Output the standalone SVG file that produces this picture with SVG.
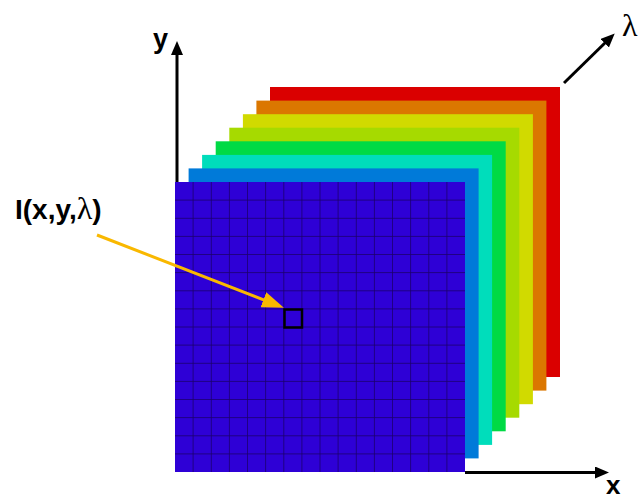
<svg xmlns="http://www.w3.org/2000/svg" width="638" height="500" viewBox="0 0 638 500">
  <style>
    .lbl{font-family:"Liberation Sans",Arial,sans-serif;font-weight:bold;fill:#000}
    .greek{font-family:"Liberation Serif","Times New Roman",serif;font-weight:normal;fill:#000}
    .axis{stroke:#000;stroke-width:3;fill:none}
    .grid{stroke:#1c0068;stroke-width:1;fill:none;opacity:0.75}
  </style>
  <defs>
    <marker id="blackHead" markerUnits="userSpaceOnUse" markerWidth="14" markerHeight="12" refX="6" refY="6" orient="auto">
      <path d="M0,0 L14,6 L0,12 z" fill="#000"/>
    </marker>
    <marker id="goldHead" markerUnits="userSpaceOnUse" markerWidth="22" markerHeight="16" refX="10" refY="8" orient="auto">
      <path d="M0,0 L22,8 L0,16 z" fill="#F9B800"/>
    </marker>
  </defs>
  <rect width="638" height="500" fill="#fff"/>

  <g id="connectors">
    <line id="y-axis" class="axis" x1="177" y1="472" x2="177" y2="49" marker-end="url(#blackHead)"/>
    <line id="x-axis" class="axis" x1="465" y1="472.5" x2="601" y2="472.5" marker-end="url(#blackHead)"/>
    <line id="lambda-axis" class="axis" x1="564" y1="83" x2="609" y2="39" marker-end="url(#blackHead)"/>
  </g>

  <g id="layer-red"><rect x="270" y="87" width="290" height="290" fill="#DA0000"/></g>
  <g id="layer-orange"><rect x="256.4" y="100.6" width="290" height="290" fill="#DB7700"/></g>
  <g id="layer-yellow"><rect x="242.9" y="114.2" width="290" height="290" fill="#D1DA00"/></g>
  <g id="layer-yellowgreen"><rect x="229.3" y="127.7" width="290" height="290" fill="#A6DA00"/></g>
  <g id="layer-green"><rect x="215.7" y="141.3" width="290" height="290" fill="#00DA45"/></g>
  <g id="layer-cyan"><rect x="202.1" y="154.9" width="290" height="290" fill="#00DDBB"/></g>
  <g id="layer-blue"><rect x="188.6" y="168.4" width="290" height="290" fill="#007AD9"/></g>
  <g id="layer-front">
    <rect x="175" y="182" width="290" height="290" fill="#2E00D6"/>
    <path class="grid" d="M193.1,182V472M211.3,182V472M229.4,182V472M247.5,182V472M265.6,182V472M283.8,182V472M301.9,182V472M320,182V472M338.1,182V472M356.3,182V472M374.4,182V472M392.5,182V472M410.6,182V472M428.8,182V472M446.9,182V472
      M175,200.1H465M175,218.3H465M175,236.4H465M175,254.5H465M175,272.6H465M175,290.8H465M175,308.9H465M175,327H465M175,345.1H465M175,363.3H465M175,381.4H465M175,399.5H465M175,417.6H465M175,435.8H465M175,453.9H465"/>
  </g>

  <g id="pixel">
    <rect x="284.5" y="309.5" width="17.5" height="18" fill="none" stroke="#000" stroke-width="2.5"/>
  </g>

  <g id="pointer">
    <line x1="97" y1="235" x2="272.7" y2="303.4" stroke="#F9B800" stroke-width="3" marker-end="url(#goldHead)"/>
  </g>

  <g id="labels">
    <text class="lbl" x="153" y="48" font-size="27">y</text>
    <text class="lbl" x="606" y="494" font-size="26">x</text>
    <text class="greek" x="622" y="36" font-size="32">λ</text>
    <text class="lbl" x="15" y="219" font-size="28">I(x,y,<tspan class="greek" font-size="32">λ</tspan>)</text>
  </g>
</svg>
